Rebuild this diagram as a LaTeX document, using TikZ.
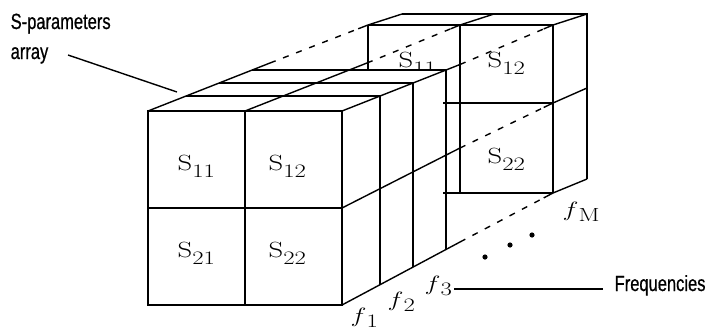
\documentclass[tikz,border=0pt]{standalone}
\usepackage{fontspec}
\usepackage{graphicx}
\usetikzlibrary{calc}
\newfontfamily\labfont[FakeStretch=0.75,FakeBold=0.6]{Liberation Sans}
\newcommand\Slab[1]{\scalebox{1.3}[1]{S\raisebox{-7pt}{\fontsize{19}{19}\selectfont #1}}}
\newcommand\flab[1]{\scalebox{1.3}[1]{$f$\raisebox{-5pt}{\fontsize{19}{19}\selectfont #1}}}
\begin{document}
\begin{tikzpicture}[x=1pt,y=-1pt,line width=1.4pt,
  hid/.style={dash pattern=on 6pt off 8pt},
  cell/.style={inner sep=0pt,anchor=base west,font=\fontsize{22}{26}\selectfont},
  tag/.style={inner sep=0pt,anchor=base west,font=\labfont\fontsize{22}{26}\selectfont}]
\useasboundingbox (0,0) rectangle (707,330);
% ---------- back block (f_M) ----------
\coordinate (m1) at (368,25); \coordinate (m2) at (460,25); \coordinate (m3) at (553,25);
\coordinate (m4) at (553,103); \coordinate (m5) at (553,193);
\coordinate (n1) at (402,14); \coordinate (n2) at (494,14); \coordinate (n3) at (587,14);
\coordinate (n4) at (587,88); \coordinate (n5) at (587,179);
\draw (m1) -- (m3);
\draw (n1) -- (n3) -- (n5);
\draw (m1) -- (n1); \draw (m2) -- (n2); \draw (m3) -- (n3);
\draw (m4) -- (n4); \draw (m5) -- (n5);
\draw (m1) -- (368,70);
\draw (m2) -- (460,193);
\draw (m3) -- (m5);
\draw (443,103) -- (m4);
\draw (443,193) -- (m5);
\begin{scope}
\clip (368,0) rectangle (460,70);
\node[cell] (s11b) at (398,67) {\Slab{11}};
\end{scope}
\node[cell] (s12b) at (487,67) {\Slab{12}};
\node[cell] (s22b) at (487,163) {\Slab{22}};
% ---------- front block (f_1 .. f_3) ----------
\coordinate (a) at (148,111); \coordinate (b) at (245,111); \coordinate (c) at (342,111);
\coordinate (d) at (148,208); \coordinate (e) at (342,208);
\coordinate (f) at (148,305); \coordinate (g) at (245,305); \coordinate (h) at (342,305);
\draw (a) rectangle (h);
\draw (b) -- (g);
\draw (d) -- (e);
\coordinate (ta) at (270,63); \coordinate (tb) at (367,63); \coordinate (tc) at (460,64.5);
\coordinate (te) at (460,148); \coordinate (th) at (460,242);
\draw (a) -- (ta); \draw (b) -- (tb); \draw (c) -- (tc);
\draw (e) -- (te); \draw (h) -- (th);
\draw (186,96) -- (380,96);
\draw (219,83) -- (413,83);
\draw (252,70) -- (446,70);
\draw (380,96) -- (380,284.7);
\draw (413,83) -- (413,267.1);
\draw (446,70) -- (446,249.5);
% hidden (dashed) continuation towards f_M
\draw[hid] (ta) -- ($(ta)!0.9!(m1)$); \draw ($(ta)!0.9!(m1)$) -- (m1);
\draw[hid] (tb) -- ($(tb)!0.9!(m2)$); \draw ($(tb)!0.9!(m2)$) -- (m2);
\draw[hid] (tc) -- ($(tc)!0.9!(m3)$); \draw ($(tc)!0.9!(m3)$) -- (m3);
\draw[hid] (te) -- ($(te)!0.9!(m4)$); \draw ($(te)!0.9!(m4)$) -- (m4);
\draw[hid] (th) -- ($(th)!0.9!(m5)$); \draw ($(th)!0.9!(m5)$) -- (m5);
\node[cell] (s11) at (177,170) {\Slab{11}};
\node[cell] (s12) at (268,170) {\Slab{12}};
\node[cell] (s21) at (177,257) {\Slab{21}};
\node[cell] (s22) at (268,257) {\Slab{22}};
% frequency labels
\node[cell] (f1) at (350,322) {\flab{1}};
\node[cell] (f2) at (387,306) {\flab{2}};
\node[cell] (f3) at (424,290) {\flab{3}};
\node[cell] (fM) at (562,216) {\flab{M}};
\fill (485,257) circle[radius=2.6pt];
\fill (510,245) circle[radius=2.6pt];
\fill (532,235) circle[radius=2.6pt];
% callouts
\node[tag] (sp) at (10,29) {S-parameters};
\node[tag] (ar) at (10,59) {array};
\coordinate (spend) at (177,92);
\draw (68,55) -- (spend);
\node[tag] (fr) at (614,291) {Frequencies};
\coordinate (frstart) at (454,289);
\draw (frstart) -- (603,289);
\end{tikzpicture}
\end{document}
